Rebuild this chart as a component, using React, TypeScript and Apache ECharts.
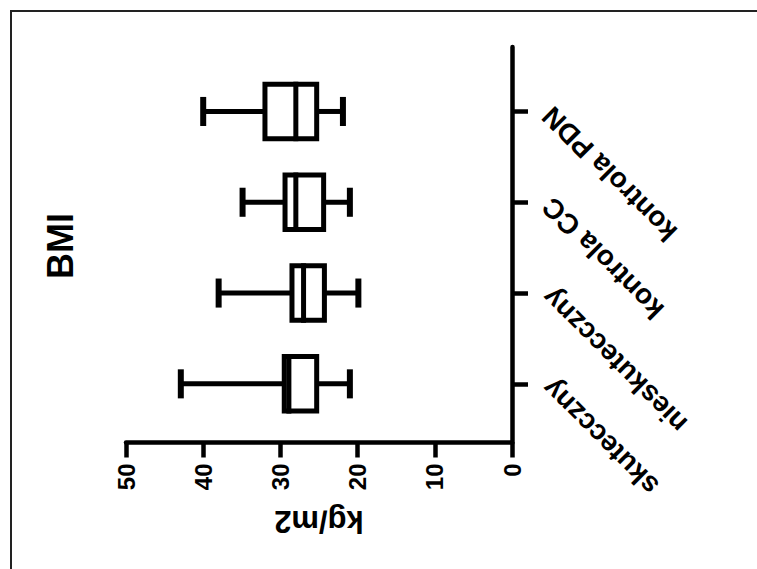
import React, { useEffect, useRef } from "react";
import * as echarts from "echarts";

// Categories (bottom to top)
const categories = ["skutecczny", "nieskutecczny", "kontrola CC", "kontrola PDN"];
// Box statistics per category (kg/m2)
const minValues = [21.0, 19.9, 21.0, 21.9];
const q1Values = [25.3, 24.3, 24.4, 25.3];
const medianValues = [28.9, 27.0, 28.0, 28.0];
const q3Values = [29.5, 28.5, 29.4, 32.0];
const maxValues = [42.9, 38.0, 34.9, 40.0];
const valueTicks = [0, 10, 20, 30, 40, 50];

const FONT = "'Liberation Sans', Arial, Helvetica, sans-serif";

export default function App() {
  const ref = useRef<HTMLDivElement>(null);
  useEffect(() => {
    if (!ref.current) return;
    const chart = echarts.init(ref.current, null, { renderer: "svg" });
    const data = categories.map((_, i) => [
      i,
      minValues[i],
      q1Values[i],
      medianValues[i],
      q3Values[i],
      maxValues[i],
    ]);
    const catIdx = categories.map((_, i) => i);
    const option: any = {
      animation: false,
      backgroundColor: "#ffffff",
      grid: { left: 126, right: 245, top: 47, bottom: 126.5 },
      xAxis: {
        type: "value",
        position: "bottom",
        inverse: true,
        min: valueTicks[0],
        max: valueTicks[valueTicks.length - 1],
        interval: 10,
        name: "kg/m2",
        nameLocation: "middle",
        nameRotate: 180,
        nameGap: 63,
        nameTextStyle: { fontFamily: FONT, fontWeight: "bold", fontSize: 31, color: "#000" },
        axisLine: { show: true, onZero: false, lineStyle: { color: "#000", width: 4.5 } },
        axisTick: { show: true, length: 15, lineStyle: { color: "#000", width: 4.5 } },
        axisLabel: {
          rotate: 90,
          margin: 21,
          fontFamily: FONT,
          fontWeight: "bold",
          fontSize: 24,
          color: "#000",
        },
        splitLine: { show: false },
      },
      yAxis: {
        type: "value",
        position: "right",
        min: -0.646,
        max: 3.71,
        axisLine: { show: true, onZero: false, lineStyle: { color: "#000", width: 4.5 } },
        axisTick: {
          show: true,
          length: 16,
          customValues: catIdx,
          lineStyle: { color: "#000", width: 4.5 },
        },
        axisLabel: {
          customValues: catIdx,
          rotate: 135,
          margin: 35,
          fontFamily: FONT,
          fontWeight: "bold",
          fontSize: 28,
          color: "#000",
          formatter: (v: number) => categories[Math.round(v)] ?? "",
        },
        splitLine: { show: false },
      },
      series: [
        {
          type: "custom",
          encode: { x: [1, 2, 3, 4, 5], y: 0 },
          data,
          renderItem: (params: any, api: any) => {
            const c = api.value(0);
            const vals = [1, 2, 3, 4, 5].map((k) => api.value(k));
            const pts = vals.map((v) => api.coord([v, c]));
            const unit = api.size([0, 1])[1];
            const hb = unit * 0.3;
            const hc = unit * 0.16;
            const y = pts[0][1];
            const lw = 5;
            const st = { stroke: "#000", lineWidth: lw, fill: "none" };
            const xq1 = pts[1][0];
            const xq3 = pts[3][0];
            return {
              type: "group",
              children: [
                { type: "line", shape: { x1: pts[0][0], y1: y, x2: xq1, y2: y }, style: st },
                { type: "line", shape: { x1: xq3, y1: y, x2: pts[4][0], y2: y }, style: st },
                { type: "line", shape: { x1: pts[0][0], y1: y - hc, x2: pts[0][0], y2: y + hc }, style: { ...st, lineWidth: 6 } },
                { type: "line", shape: { x1: pts[4][0], y1: y - hc, x2: pts[4][0], y2: y + hc }, style: { ...st, lineWidth: 6 } },
                {
                  type: "rect",
                  shape: { x: Math.min(xq1, xq3), y: y - hb, width: Math.abs(xq1 - xq3), height: 2 * hb },
                  style: { stroke: "#000", lineWidth: lw, fill: "#fff" },
                },
                {
                  type: "line",
                  shape: { x1: pts[2][0], y1: y - hb - lw / 2, x2: pts[2][0], y2: y + hb + lw / 2 },
                  style: st,
                },
              ],
            };
          },
        },
      ],
      graphic: [
        {
          type: "polyline",
          shape: { points: [[11, 620], [11, 11], [820, 11]] },
          style: { fill: "none", stroke: "#222", lineWidth: 2 },
          silent: true,
        },
        {
          type: "text",
          x: 60,
          y: 246,
          rotation: Math.PI / 2,
          style: {
            text: "BMI",
            fontFamily: FONT,
            fontWeight: "bold",
            fontSize: 36,
            fill: "#000",
            align: "center",
            verticalAlign: "middle",
          },
        },
      ],
    };
    chart.setOption(option);
    return () => chart.dispose();
  }, []);
  return (
    <div
      ref={ref}
      style={{ position: "fixed", left: 0, top: 0, width: 757, height: 569, background: "#fff" }}
    />
  );
}
